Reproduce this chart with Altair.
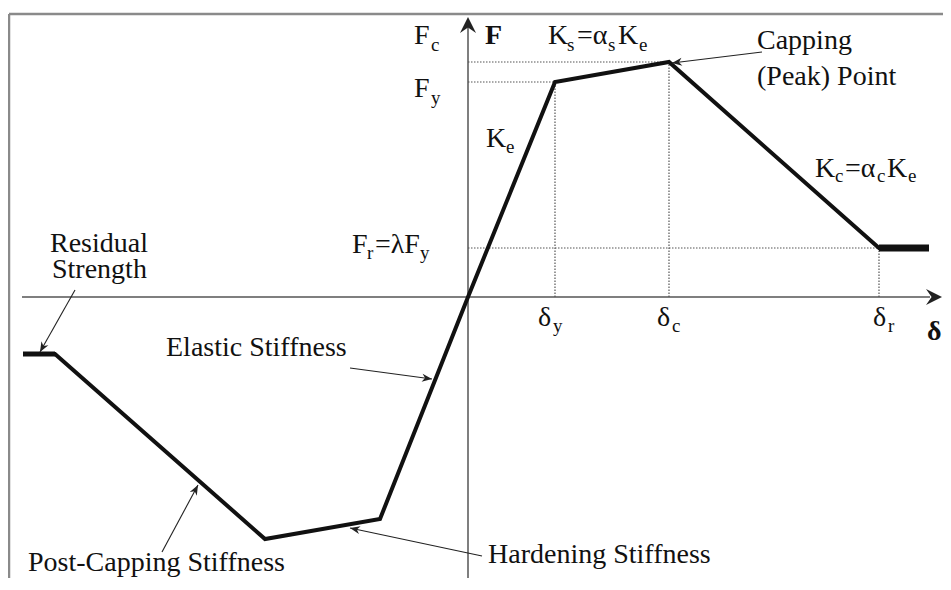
import math
import altair as alt
import pandas as pd

# ---- Backbone curve (delta, F); origin at the axes crossing, F upward ----
delta = [-445, -413, -203, -88, 0, 87, 201, 411, 461]
force = [-57, -57, -242, -222, 0, 215, 235, 49, 49]

# key points: yield, capping, residual
key_delta = [87, 201, 411]
key_force = [215, 235, 49]

# thicker residual-strength plateaus
resid_x0 = [-445, 411]
resid_x1 = [-413, 461]
resid_f = [-57, 49]
resid_w = [5, 7]

# annotation arrows (tail -> head)
arrow_x0 = [-393, -118, -306, 14, 294]
arrow_y0 = [7, -71, -255, -259, 245]
arrow_x1 = [-428, -36, -270, -118, 204]
arrow_y1 = [-55, -82, -188, -231, 234]

# axes and frame extents
haxis = [-446, 462]
vaxis = [-300, 272]
frame_top = 283
frame_left = -459

# labels: text, x, y (baseline), font size
lab_text = ["F", "c", "K", "s", "=\u03b1", "s", "K", "e",
            "F", "y", "K", "e",
            "F", "r", "=\u03bbF", "y",
            "\u03b4", "y", "\u03b4", "c", "\u03b4", "r",
            "Capping", "(Peak) Point",
            "K", "c", "=\u03b1", "c", "K", "e",
            "Residual", "Strength", "Elastic Stiffness",
            "Post-Capping Stiffness", "Hardening Stiffness"]
lab_x = [-54, -37, 80, 99, 109, 140, 150, 171,
         -54, -37, 18, 38,
         -116, -101, -93, -48,
         70, 85, 189, 204, 405, 420,
         289, 289,
         347, 367, 377, 409, 419, 440,
         -418, -416, -302,
         -440, 20]
lab_y = [253, 246, 253, 246, 253, 246, 253, 246,
         200, 193, 150, 144,
         44, 38, 44, 38,
         -29, -35, -29, -35, -29, -35,
         248, 212,
         120, 115, 120, 115, 120, 115,
         45, 19, -59,
         -274, -266]
lab_size = [28, 19, 28, 19, 28, 19, 28, 19,
            28, 19, 28, 19,
            28, 19, 28, 19,
            28, 19, 28, 19, 28, 19,
            28, 28,
            28, 19, 28, 19, 28, 19,
            28, 28, 28,
            28, 28]
bold_text = ["F", "\u03b4"]
bold_x = [17, 459]
bold_y = [253, -43]

# ---------------- build tables ----------------
curve = pd.DataFrame({"d": delta, "f": force, "i": range(len(delta))})

dots = pd.DataFrame({
    "x": [0] * 3 + key_delta,
    "x2": key_delta + key_delta,
    "y": key_force + [0] * 3,
    "y2": key_force + key_force,
})

resid = pd.DataFrame({"x": resid_x0, "x2": resid_x1, "y": resid_f, "w": resid_w})

arrows = pd.DataFrame({"x": arrow_x0, "y": arrow_y0, "x2": arrow_x1, "y2": arrow_y1})
arrows["ang"] = [
    math.degrees(math.atan2(x2 - x, y2 - y)) % 360
    for x, y, x2, y2 in zip(arrow_x0, arrow_y0, arrow_x1, arrow_y1)
]

axes = pd.DataFrame({
    "x": [haxis[0], 0], "x2": [haxis[1], 0],
    "y": [0, vaxis[0]], "y2": [0, vaxis[1]],
})
frame = pd.DataFrame({
    "x": [frame_left, frame_left], "x2": [500, frame_left],
    "y": [frame_top, frame_top], "y2": [frame_top, -320],
})
labels = pd.DataFrame({"t": lab_text, "x": lab_x, "y": lab_y, "s": lab_size})
bolds = pd.DataFrame({"t": bold_text, "x": bold_x, "y": bold_y})

W, H = 935, 570
xs = alt.Scale(domain=[-460, 475], nice=False, zero=False)
ys = alt.Scale(domain=[-281, 289], nice=False, zero=False)


def X(f):
    return alt.X(f, type="quantitative", scale=xs, axis=None)


def Y(f):
    return alt.Y(f, type="quantitative", scale=ys, axis=None)


frame_l = alt.Chart(frame).mark_rule(color="#8a8a8a", strokeWidth=2.5).encode(
    x=X("x"), x2="x2", y=Y("y"), y2="y2")
axes_l = alt.Chart(axes).mark_rule(color="#555555", strokeWidth=1.5).encode(
    x=X("x"), x2="x2", y=Y("y"), y2="y2")
dots_l = alt.Chart(dots).mark_rule(color="#555555", strokeWidth=1.2, strokeDash=[1.5, 1.5]).encode(
    x=X("x"), x2="x2", y=Y("y"), y2="y2")
curve_l = alt.Chart(curve).mark_line(color="#111111", strokeWidth=4, strokeJoin="miter").encode(
    x=X("d"), y=Y("f"), order="i:Q")
resid_l = alt.Chart(resid).mark_rule(color="#111111").encode(
    x=X("x"), x2="x2", y=Y("y"), strokeWidth=alt.StrokeWidth("w:Q", scale=None))
arrow_l = alt.Chart(arrows).mark_rule(color="#222222", strokeWidth=1.1).encode(
    x=X("x"), x2="x2", y=Y("y"), y2="y2")
head_l = alt.Chart(arrows).mark_point(
    shape="M0,0 L0.8,2 L0,1.4 L-0.8,2 Z", filled=True, size=100, color="#222222", opacity=1
).encode(x=X("x2"), y=Y("y2"), angle=alt.Angle("ang:Q", scale=None))

ax_heads = pd.DataFrame({"x": [0, 474], "y": [280, 0], "ang": [0, 90]})
axhead_l = alt.Chart(ax_heads).mark_point(
    shape="M0,0 L1,2 L0,1.3 L-1,2 Z", filled=True, size=256, color="#222222", opacity=1
).encode(x=X("x"), y=Y("y"), angle=alt.Angle("ang:Q", scale=None))

text_l = alt.Chart(labels).mark_text(
    align="left", baseline="alphabetic", font="Liberation Serif", color="#111111"
).encode(x=X("x"), y=Y("y"), text="t:N", size=alt.Size("s:Q", scale=None))
bold_l = alt.Chart(bolds).mark_text(
    align="left", baseline="alphabetic", font="Liberation Serif", color="#111111",
    fontWeight="bold", fontSize=28
).encode(x=X("x"), y=Y("y"), text="t:N")

chart = alt.layer(
    frame_l, axes_l, dots_l, curve_l, resid_l, arrow_l, head_l, axhead_l, text_l, bold_l
).properties(
    width=W, height=H, padding=0, autosize=alt.AutoSizeParams(type="none"),
    background="white"
).configure_view(stroke=None)

chart.save("out.html", embed_options={"renderer": "svg", "actions": False})
